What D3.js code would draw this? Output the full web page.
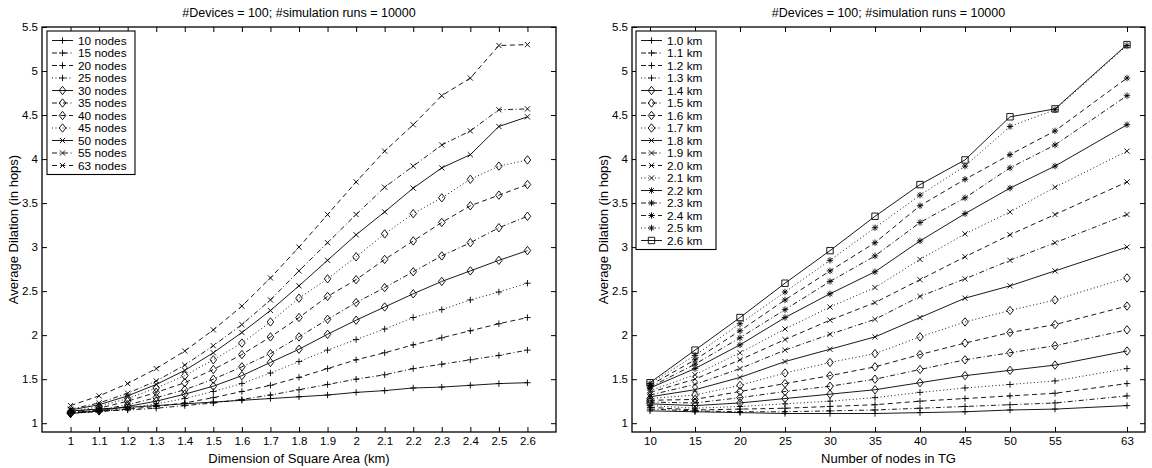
<!DOCTYPE html>
<html>
<head>
<meta charset="utf-8">
<script src="https://cdn.jsdelivr.net/npm/d3@7/dist/d3.min.js"></script>
<style>
  html, body { margin: 0; padding: 0; background: #fff; }
  svg { display: block; font-family: "Liberation Sans", Arial, Helvetica, sans-serif; }
</style>
</head>
<body>
<svg id="fig" width="1152" height="468"></svg>
<script>
// Area side lengths (km) and node counts of the tested groups
const areaKm = [1.0, 1.1, 1.2, 1.3, 1.4, 1.5, 1.6, 1.7, 1.8, 1.9, 2.0, 2.1, 2.2, 2.3, 2.4, 2.5, 2.6];
const nodeCounts = [10, 15, 20, 25, 30, 35, 40, 45, 50, 55, 63];

// Average dilation (hops) per node count, one value per area side length
const dil10 = [1.14, 1.16, 1.18, 1.20, 1.22, 1.24, 1.26, 1.28, 1.30, 1.32, 1.35, 1.37, 1.40, 1.41, 1.43, 1.45, 1.46];
const dil15 = [1.13, 1.14, 1.15, 1.17, 1.20, 1.23, 1.27, 1.32, 1.38, 1.44, 1.50, 1.55, 1.62, 1.67, 1.72, 1.77, 1.83];
const dil20 = [1.12, 1.13, 1.16, 1.19, 1.23, 1.29, 1.36, 1.43, 1.52, 1.62, 1.72, 1.80, 1.89, 1.97, 2.05, 2.13, 2.20];
const dil25 = [1.11, 1.13, 1.17, 1.22, 1.28, 1.36, 1.45, 1.57, 1.70, 1.83, 1.95, 2.07, 2.20, 2.29, 2.40, 2.49, 2.59];
const dil30 = [1.11, 1.14, 1.19, 1.25, 1.33, 1.42, 1.54, 1.69, 1.84, 2.01, 2.17, 2.32, 2.47, 2.61, 2.73, 2.85, 2.96];
const dil35 = [1.11, 1.15, 1.21, 1.29, 1.38, 1.50, 1.64, 1.79, 1.98, 2.18, 2.37, 2.54, 2.72, 2.90, 3.05, 3.22, 3.35];
const dil40 = [1.12, 1.17, 1.25, 1.35, 1.46, 1.61, 1.78, 1.98, 2.20, 2.44, 2.63, 2.86, 3.07, 3.28, 3.47, 3.59, 3.71];
const dil45 = [1.13, 1.19, 1.28, 1.40, 1.54, 1.72, 1.91, 2.15, 2.42, 2.64, 2.89, 3.15, 3.38, 3.56, 3.77, 3.92, 3.99];
const dil50 = [1.15, 1.21, 1.31, 1.44, 1.60, 1.80, 2.03, 2.28, 2.56, 2.85, 3.14, 3.40, 3.67, 3.90, 4.05, 4.37, 4.48];
const dil55 = [1.16, 1.23, 1.34, 1.48, 1.66, 1.88, 2.12, 2.40, 2.73, 3.05, 3.37, 3.68, 3.92, 4.16, 4.32, 4.56, 4.57];
const dil63 = [1.20, 1.31, 1.45, 1.62, 1.82, 2.06, 2.33, 2.65, 3.00, 3.37, 3.74, 4.09, 4.39, 4.72, 4.92, 5.29, 5.30];

const dilationByNodes = [dil10, dil15, dil20, dil25, dil30, dil35, dil40, dil45, dil50, dil55, dil63];

// Tick labels
const kmTicks = areaKm;
const nodeTicks = nodeCounts;
const yTicks = [1, 1.5, 2, 2.5, 3, 3.5, 4, 4.5, 5, 5.5];

const titleText = "#Devices = 100; #simulation runs = 10000";

// MATLAB-like cycling of line styles inside each marker group
const dashes = [null, "5,2.5,1,2.5", "5,3.5", "1,2.5"];

const svg = d3.select("#fig");

function markerPath(type, cx, cy) {
  const p = d3.path();
  if (type === "plus") {
    const r = 3.2;
    p.moveTo(cx - r, cy); p.lineTo(cx + r, cy);
    p.moveTo(cx, cy - r); p.lineTo(cx, cy + r);
  } else if (type === "x") {
    const r = 2.6;
    p.moveTo(cx - r, cy - r); p.lineTo(cx + r, cy + r);
    p.moveTo(cx - r, cy + r); p.lineTo(cx + r, cy - r);
  } else if (type === "diamond") {
    const w = 3.3, h = 4.2;
    p.moveTo(cx, cy - h); p.lineTo(cx + w, cy); p.lineTo(cx, cy + h); p.lineTo(cx - w, cy); p.closePath();
  } else if (type === "star") {
    const r = 3.2, d = 2.3;
    p.moveTo(cx - r, cy); p.lineTo(cx + r, cy);
    p.moveTo(cx, cy - r); p.lineTo(cx, cy + r);
    p.moveTo(cx - d, cy - d); p.lineTo(cx + d, cy + d);
    p.moveTo(cx - d, cy + d); p.lineTo(cx + d, cy - d);
  } else if (type === "square") {
    const r = 3.2;
    p.rect(cx - r, cy - r, 2 * r, 2 * r);
  }
  return p.toString();
}

function drawPanel(opts) {
  const { left, right, top, bottom, xDomain, xTicks, xFmt, series, xLabel, legendBox } = opts;
  const g = svg.append("g");
  const x = d3.scaleLinear().domain(xDomain).range([left, right]);
  const y = d3.scaleLinear().domain([0.9, 5.5]).range([bottom, top]);

  // series lines and markers
  const line = d3.line().x(d => x(d[0])).y(d => y(d[1]));
  series.forEach(s => {
    const pts = s.xs.map((xv, i) => [xv, s.ys[i]]);
    g.append("path")
      .attr("d", line(pts))
      .attr("fill", "none")
      .attr("stroke", "#000")
      .attr("stroke-width", 0.9)
      .attr("stroke-dasharray", s.dash);
    g.append("path")
      .attr("d", pts.map(p => markerPath(s.marker, x(p[0]), y(p[1]))).join(""))
      .attr("fill", "none")
      .attr("stroke", "#000")
      .attr("stroke-width", 0.9);
  });

  // axes with inward ticks on all four sides
  const tk = 5;
  const xb = g.append("g").attr("transform", `translate(0,${bottom})`)
    .call(d3.axisBottom(x).tickValues(xTicks).tickFormat(xFmt).tickSizeInner(-tk).tickSizeOuter(0).tickPadding(5));
  const xt = g.append("g").attr("transform", `translate(0,${top})`)
    .call(d3.axisTop(x).tickValues(xTicks).tickFormat("").tickSizeInner(-tk).tickSizeOuter(0));
  const yl = g.append("g").attr("transform", `translate(${left},0)`)
    .call(d3.axisLeft(y).tickValues(yTicks).tickFormat(d3.format("~g")).tickSizeInner(-tk).tickSizeOuter(0).tickPadding(4));
  const yr = g.append("g").attr("transform", `translate(${right},0)`)
    .call(d3.axisRight(y).tickValues(yTicks).tickFormat("").tickSizeInner(-tk).tickSizeOuter(0));
  [xb, xt, yl, yr].forEach(a => {
    a.select(".domain").remove();
    a.selectAll(".tick line").attr("stroke", "#000").attr("stroke-width", 1);
    a.selectAll(".tick text").attr("fill", "#000").style("font-size", "11.5px");
  });
  g.append("rect")
    .attr("x", left).attr("y", top)
    .attr("width", right - left).attr("height", bottom - top)
    .attr("fill", "none").attr("stroke", "#000").attr("stroke-width", 1.3);

  // title and axis labels
  const cx = (left + right) / 2;
  g.append("text").attr("x", cx).attr("y", 17).attr("text-anchor", "middle")
    .style("font-size", "12.5px").text(titleText);
  g.append("text").attr("x", cx).attr("y", 463).attr("text-anchor", "middle")
    .style("font-size", "13px").text(xLabel);
  g.append("text")
    .attr("transform", `translate(${left - 24},${(top + bottom) / 2}) rotate(-90)`)
    .attr("text-anchor", "middle")
    .style("font-size", "13px").text("Average Dilation (in hops)");

  // legend
  const lg = g.append("g");
  const rowH = 12.5;
  const lx = legendBox.x, ly = legendBox.y;
  lg.append("rect")
    .attr("x", lx).attr("y", ly)
    .attr("width", legendBox.w).attr("height", series.length * rowH + 6)
    .attr("fill", "#fff").attr("stroke", "#000").attr("stroke-width", 1.1);
  series.forEach((s, i) => {
    const cy = ly + 9.5 + i * rowH;
    lg.append("line")
      .attr("x1", lx + 5).attr("x2", lx + 26).attr("y1", cy).attr("y2", cy)
      .attr("stroke", "#000").attr("stroke-width", 0.9)
      .attr("stroke-dasharray", s.dash);
    lg.append("path").attr("d", markerPath(s.marker, lx + 15.5, cy))
      .attr("fill", "none").attr("stroke", "#000").attr("stroke-width", 0.9);
    lg.append("text").attr("x", lx + 31).attr("y", cy + 4)
      .style("font-size", "11.8px").text(s.name);
  });
}

// Left panel: one curve per node count over area side length
const nodeMarkers = ["plus", "plus", "plus", "plus", "diamond", "diamond", "diamond", "diamond", "x", "x", "x"];
const leftSeries = nodeCounts.map((n, i) => ({
  name: `${n} nodes`,
  xs: areaKm,
  ys: dilationByNodes[i],
  marker: nodeMarkers[i],
  dash: dashes[i % 4]
}));

// Right panel: one curve per area side length over node count
const kmMarkers = ["plus", "plus", "plus", "plus", "diamond", "diamond", "diamond", "diamond",
  "x", "x", "x", "x", "star", "star", "star", "star", "square"];
const rightSeries = areaKm.map((k, j) => ({
  name: `${k.toFixed(1)} km`,
  xs: nodeCounts,
  ys: dilationByNodes.map(row => row[j]),
  marker: kmMarkers[j],
  dash: dashes[j % 4]
}));

drawPanel({
  left: 42, right: 556, top: 27, bottom: 432,
  xDomain: [0.9, 2.7], xTicks: kmTicks, xFmt: d3.format("~g"),
  series: leftSeries, xLabel: "Dimension of Square Area (km)",
  legendBox: { x: 47, y: 31, w: 88 }
});

drawPanel({
  left: 632, right: 1145, top: 27, bottom: 432,
  xDomain: [8, 65], xTicks: nodeTicks, xFmt: d3.format("d"),
  series: rightSeries, xLabel: "Number of nodes in TG",
  legendBox: { x: 636, y: 31, w: 80 }
});
</script>
</body>
</html>
